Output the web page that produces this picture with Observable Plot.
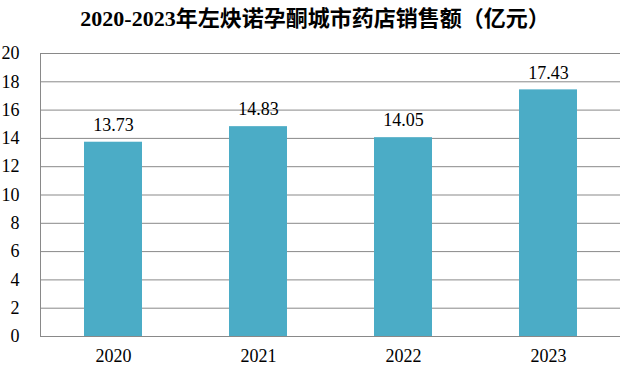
<!DOCTYPE html>
<html>
<head>
<meta charset="utf-8">
<script src="https://cdn.jsdelivr.net/npm/d3@7"></script>
<script src="https://cdn.jsdelivr.net/npm/@observablehq/plot@0.6"></script>
<style>
  html, body { margin: 0; padding: 0; background: #fff; }
  #title {
    width: 630px; height: 40px; box-sizing: border-box; padding-top: 5px;
    text-align: center; font-weight: bold; font-size: 22px; line-height: 27px;
    font-family: "Liberation Serif", "Times New Roman", "Noto Sans CJK SC", serif;
    color: #000;
  }
  #chart svg, #chart svg text { font-family: "Liberation Serif", "Times New Roman", serif !important; }
</style>
</head>
<body>
<div id="title">2020-2023年左炔诺孕酮城市药店销售额（亿元）</div>
<div id="chart"></div>
<script>
const years = ["2020", "2021", "2022", "2023"];
const sales = [13.73, 14.83, 14.05, 17.43];
const yTicks = [0, 2, 4, 6, 8, 10, 12, 14, 16, 18, 20];

const data = years.map((y, i) => ({year: y, value: sales[i]}));
const grid = "#898989";

const chart = Plot.plot({
  width: 630,
  height: 333,
  marginTop: 13,
  marginBottom: 37,
  marginLeft: 40,
  marginRight: 10,
  style: {fontFamily: "Liberation Serif, serif", fontSize: "18px", color: "#000", background: "#fff"},
  x: {domain: years, paddingInner: 0.6, paddingOuter: 0.3, label: null},
  y: {domain: [0, 20], label: null},
  marks: [
    Plot.ruleY(yTicks, {stroke: grid, strokeWidth: 1}),
    Plot.frame({anchor: "left", stroke: grid}),
    Plot.barY(data, {x: "year", y: "value", fill: "#4BACC6"}),
    Plot.text(data, {x: "year", y: "value", text: d => d.value.toFixed(2), dy: -17, fontSize: 18, fill: "#000"}),
    Plot.axisX({tickSize: 0, tickPadding: 13, fontSize: 18, label: null}),
    Plot.axisY({ticks: yTicks, tickSize: 0, tickPadding: 21, fontSize: 18, label: null})
  ]
});
document.getElementById("chart").appendChild(chart);
</script>
</body>
</html>
